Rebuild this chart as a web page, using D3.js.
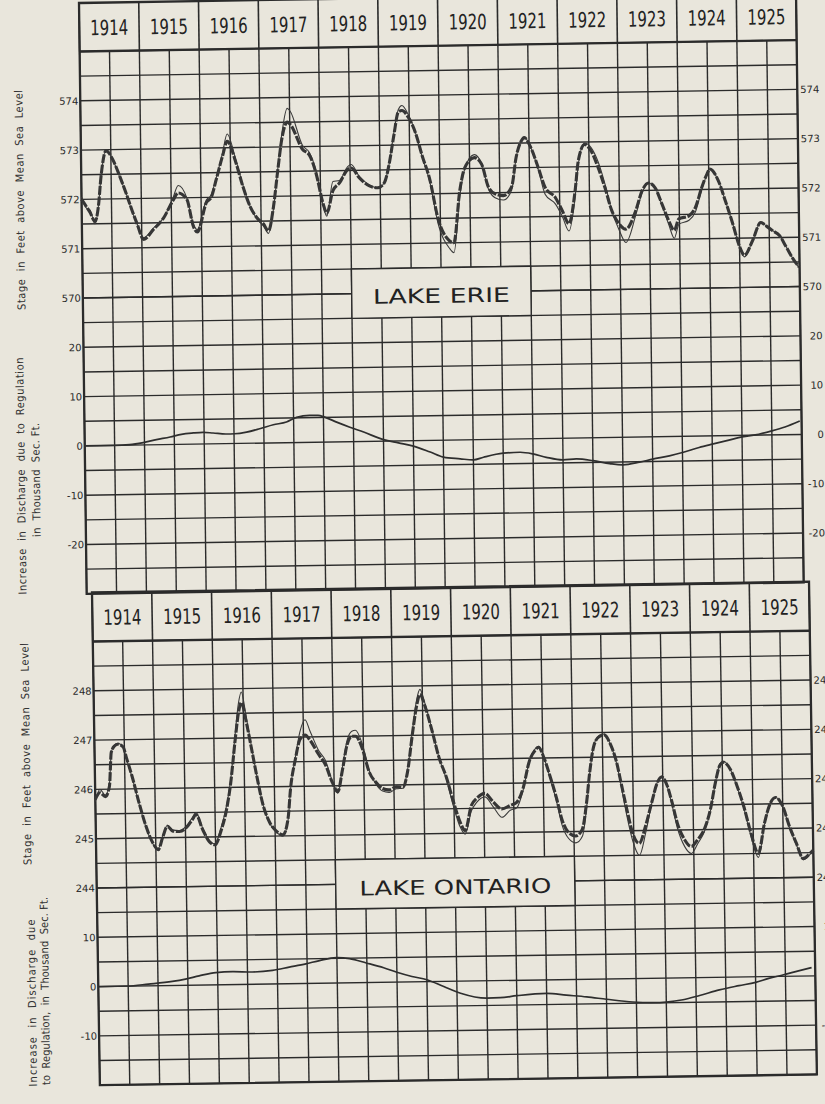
<!DOCTYPE html>
<html>
<head>
<meta charset="utf-8">
<script src="https://cdn.jsdelivr.net/npm/d3@7/dist/d3.min.js"></script>
<style>
  body { margin: 0; background: #e9e6dc; }
  svg { display: block; }
</style>
</head>
<body>
<div id="chart"></div>
<script>
// header categories
let years = [1914, 1915, 1916, 1917, 1918, 1919, 1920, 1921, 1922, 1923, 1924, 1925];

// tick labels
let erieStageTicks = [574, 573, 572, 571, 570];
let erieDischTicks = [20, 10, 0, -10, -20];
let ontStageTicks = [248, 247, 246, 245, 244];
let ontDischTicks = [10, 0, -10];

// Lake Erie stage, ft above sea level [year, ft] - heavy line
let erieStageHeavy = [
  [1914.00,572.0],[1914.08,571.85],[1914.14,571.73],[1914.22,571.55],[1914.28,571.85],[1914.33,572.45],
  [1914.42,572.98],[1914.53,572.8],[1914.64,572.47],[1914.75,572.1],[1914.84,571.77],[1914.92,571.5],
  [1915.03,571.17],[1915.20,571.37],[1915.37,571.6],[1915.53,571.95],[1915.62,572.1],[1915.76,571.97],
  [1915.87,571.4],[1915.93,571.3],[1916.09,571.9],[1916.17,572.0],[1916.26,572.37],[1916.37,572.84],
  [1916.45,573.13],[1916.59,572.7],[1916.70,572.22],[1916.82,571.8],[1916.93,571.57],[1917.04,571.44],
  [1917.12,571.3],[1917.21,571.79],[1917.29,572.53],[1917.37,573.2],[1917.46,573.5],[1917.51,573.45],
  [1917.71,572.94],[1917.82,572.83],[1917.93,572.45],[1918.04,571.84],[1918.10,571.64],[1918.21,572.1],
  [1918.32,572.25],[1918.46,572.52],[1918.52,572.55],[1918.65,572.35],[1918.82,572.18],[1918.96,572.14],
  [1919.07,572.24],[1919.16,572.65],[1919.24,573.2],[1919.32,573.67],[1919.38,573.7],[1919.49,573.55],
  [1919.60,573.25],[1919.71,572.77],[1919.83,572.3],[1919.96,571.5],[1920.14,571.05],[1920.22,571.0],
  [1920.33,572.05],[1920.42,572.52],[1920.58,572.72],[1920.70,572.59],[1920.81,572.12],[1920.92,571.98],
  [1921.06,571.94],[1921.20,572.12],[1921.28,572.71],[1921.37,573.04],[1921.42,573.11],[1921.53,572.9],
  [1921.65,572.49],[1921.76,572.09],[1921.93,571.88],[1922.04,571.62],[1922.15,571.35],[1922.26,572.01],
  [1922.32,572.62],[1922.43,572.95],[1922.54,572.81],[1922.65,572.48],[1922.76,572.07],[1922.87,571.6],
  [1922.99,571.33],[1923.10,571.22],[1923.27,571.59],[1923.38,571.99],[1923.49,572.15],[1923.60,572.05],
  [1923.71,571.72],[1923.82,571.38],[1923.91,571.18],[1923.99,571.41],[1924.16,571.47],[1924.27,571.64],
  [1924.38,572.04],[1924.47,572.31],[1924.52,572.41],[1924.66,572.17],[1924.77,571.77],[1924.89,571.3],
  [1925.00,570.83],[1925.08,570.65],[1925.22,570.95],[1925.36,571.31],[1925.47,571.22],[1925.56,571.14],
  [1925.67,571.04],[1925.78,570.81],[1925.89,570.57],[1925.99,570.4]
];

// Lake Erie stage - thin line
let erieStageThin = [
  [1914.00,572.05],[1914.08,571.82],[1914.14,571.78],[1914.22,571.5],[1914.28,571.85],[1914.33,572.45],
  [1914.42,573.0],[1914.53,572.8],[1914.64,572.45],[1914.75,572.1],[1914.84,571.75],[1914.92,571.5],
  [1915.03,571.2],[1915.20,571.4],[1915.37,571.6],[1915.53,572.0],[1915.62,572.25],[1915.76,572.0],
  [1915.87,571.45],[1915.93,571.35],[1916.09,571.95],[1916.17,572.05],[1916.26,572.4],[1916.37,572.9],
  [1916.45,573.28],[1916.59,572.75],[1916.70,572.25],[1916.82,571.8],[1916.93,571.55],[1917.04,571.4],
  [1917.12,571.25],[1917.21,571.75],[1917.29,572.55],[1917.37,573.3],[1917.46,573.78],[1917.51,573.72],
  [1917.71,573.02],[1917.82,572.88],[1917.93,572.5],[1918.04,571.8],[1918.10,571.58],[1918.21,572.28],
  [1918.32,572.3],[1918.46,572.58],[1918.52,572.62],[1918.65,572.38],[1918.82,572.2],[1918.96,572.14],
  [1919.07,572.24],[1919.16,572.65],[1919.24,573.25],[1919.32,573.72],[1919.38,573.8],[1919.49,573.6],
  [1919.60,573.25],[1919.71,572.75],[1919.83,572.25],[1919.96,571.4],[1920.14,570.9],[1920.22,570.8],
  [1920.33,571.95],[1920.42,572.5],[1920.58,572.78],[1920.70,572.6],[1920.81,572.08],[1920.92,571.9],
  [1921.06,571.85],[1921.20,572.05],[1921.28,572.7],[1921.37,573.05],[1921.42,573.12],[1921.53,572.9],
  [1921.65,572.45],[1921.76,571.95],[1921.93,571.75],[1922.04,571.5],[1922.15,571.2],[1922.26,571.9],
  [1922.32,572.55],[1922.43,572.98],[1922.54,572.88],[1922.65,572.6],[1922.76,572.15],[1922.87,571.6],
  [1922.99,571.2],[1923.10,570.95],[1923.27,571.5],[1923.38,571.95],[1923.49,572.15],[1923.60,572.05],
  [1923.71,571.7],[1923.82,571.3],[1923.91,571.02],[1923.99,571.3],[1924.16,571.38],[1924.27,571.55],
  [1924.38,572.0],[1924.47,572.3],[1924.52,572.41],[1924.66,572.17],[1924.77,571.77],[1924.89,571.3],
  [1925.00,570.83],[1925.08,570.62],[1925.22,570.95],[1925.36,571.31],[1925.47,571.22],[1925.56,571.14],
  [1925.67,571.04],[1925.78,570.81],[1925.89,570.57],[1925.99,570.38]
];

// Lake Erie increase in discharge, thousand sec. ft.
let erieDischarge = [
  [1914.00,0],[1914.50,0],[1914.75,0.1],[1914.98,0.48],[1915.20,1.03],[1915.43,1.53],[1915.62,2.04],
  [1915.82,2.27],[1915.98,2.37],[1916.15,2.2],[1916.37,1.95],[1916.51,1.98],[1916.71,2.28],[1916.93,2.91],
  [1917.16,3.68],[1917.38,4.18],[1917.55,5.1],[1917.77,5.46],[1917.91,5.43],[1918.02,5.06],[1918.22,4.0],
  [1918.44,2.93],[1918.67,1.9],[1919.00,0.3],[1919.25,-0.4],[1919.50,-1.1],[1919.78,-2.37],[1920.00,-3.44],
  [1920.28,-3.84],[1920.50,-4.1],[1920.67,-3.59],[1921.00,-2.84],[1921.28,-2.7],[1921.50,-3.08],
  [1921.72,-3.81],[1922.00,-4.4],[1922.22,-4.24],[1922.50,-4.64],[1922.78,-5.3],[1923.00,-5.6],
  [1923.28,-5.1],[1923.50,-4.53],[1923.78,-3.91],[1924.00,-3.28],[1924.28,-2.32],[1924.50,-1.69],
  [1924.78,-0.93],[1925.00,-0.3],[1925.28,0.18],[1925.50,0.81],[1925.72,1.57],[1925.97,2.74]
];

// Lake Ontario stage - heavy line
let ontStageHeavy = [
  [1914.00,245.8],[1914.08,245.93],[1914.17,245.85],[1914.24,246.06],[1914.28,246.75],[1914.34,246.88],
  [1914.39,246.91],[1914.48,246.85],[1914.53,246.64],[1914.62,246.26],[1914.73,245.72],[1914.84,245.24],
  [1914.95,244.9],[1915.04,244.76],[1915.12,245.02],[1915.20,245.23],[1915.29,245.13],[1915.40,245.12],
  [1915.51,245.19],[1915.62,245.36],[1915.68,245.46],[1915.79,245.15],[1915.90,244.9],[1915.99,244.84],
  [1916.10,245.14],[1916.18,245.48],[1916.27,246.09],[1916.35,246.9],[1916.42,247.52],[1916.47,247.72],
  [1916.55,247.3],[1916.63,246.76],[1916.71,246.21],[1916.80,245.66],[1916.91,245.28],[1917.02,245.1],
  [1917.13,245.02],[1917.22,245.35],[1917.27,245.96],[1917.36,246.56],[1917.44,246.95],[1917.53,247.04],
  [1917.61,246.93],[1917.75,246.64],[1917.86,246.43],[1917.97,246.07],[1918.06,245.88],[1918.14,246.3],
  [1918.23,246.84],[1918.31,247.0],[1918.37,247.0],[1918.48,246.75],[1918.59,246.27],[1918.70,246.06],
  [1918.81,245.93],[1918.92,245.9],[1919.04,245.96],[1919.15,245.95],[1919.23,246.25],[1919.32,247.0],
  [1919.40,247.59],[1919.46,247.83],[1919.54,247.59],[1919.65,247.1],[1919.76,246.55],[1919.88,246.14],
  [1919.99,245.65],[1920.10,245.22],[1920.18,245.05],[1920.29,245.56],[1920.38,245.7],[1920.52,245.8],
  [1920.66,245.62],[1920.80,245.48],[1920.94,245.55],[1921.05,245.61],[1921.16,245.89],[1921.27,246.43],
  [1921.38,246.67],[1921.43,246.72],[1921.52,246.5],[1921.61,246.15],[1921.72,245.67],[1921.80,245.26],
  [1921.91,244.98],[1922.03,244.91],[1922.14,245.04],[1922.22,245.59],[1922.28,246.2],[1922.36,246.75],
  [1922.45,246.92],[1922.53,246.95],[1922.64,246.74],[1922.73,246.4],[1922.81,245.92],[1922.89,245.44],
  [1922.98,244.96],[1923.09,244.74],[1923.20,245.09],[1923.31,245.57],[1923.40,245.94],[1923.48,246.08],
  [1923.57,245.91],[1923.65,245.56],[1923.73,245.15],[1923.85,244.8],[1923.96,244.66],[1924.07,244.8],
  [1924.18,245.0],[1924.29,245.41],[1924.38,245.95],[1924.46,246.3],[1924.52,246.36],[1924.63,246.22],
  [1924.74,245.88],[1924.85,245.45],[1924.96,244.92],[1925.08,244.5],[1925.19,245.11],[1925.30,245.53],
  [1925.38,245.63],[1925.50,245.45],[1925.61,245.03],[1925.72,244.69],[1925.83,244.38],[1925.94,244.48],
  [1926.00,244.55]
];

// Lake Ontario stage - thin line
let ontStageThin = [
  [1914.00,245.75],[1914.08,246.0],[1914.17,245.88],[1914.24,246.1],[1914.28,246.75],[1914.34,246.9],
  [1914.39,246.93],[1914.48,246.85],[1914.53,246.62],[1914.62,246.24],[1914.73,245.7],[1914.84,245.22],
  [1914.95,244.88],[1915.04,244.78],[1915.12,245.05],[1915.20,245.25],[1915.29,245.15],[1915.40,245.14],
  [1915.51,245.22],[1915.62,245.4],[1915.68,245.5],[1915.79,245.18],[1915.90,244.92],[1915.99,244.86],
  [1916.10,245.2],[1916.18,245.55],[1916.27,246.15],[1916.35,247.0],[1916.42,247.7],[1916.47,247.93],
  [1916.55,247.4],[1916.63,246.8],[1916.71,246.22],[1916.80,245.66],[1916.91,245.26],[1917.02,245.08],
  [1917.13,245.0],[1917.22,245.32],[1917.27,245.95],[1917.36,246.6],[1917.44,247.1],[1917.53,247.35],
  [1917.61,247.12],[1917.75,246.72],[1917.86,246.52],[1917.97,246.1],[1918.06,245.85],[1918.14,246.35],
  [1918.23,246.92],[1918.31,247.1],[1918.37,247.12],[1918.48,246.85],[1918.59,246.3],[1918.70,246.02],
  [1918.81,245.88],[1918.92,245.85],[1919.04,245.92],[1919.15,245.93],[1919.23,246.28],[1919.32,247.05],
  [1919.40,247.7],[1919.46,247.93],[1919.54,247.65],[1919.65,247.12],[1919.76,246.55],[1919.88,246.1],
  [1919.99,245.55],[1920.10,245.12],[1920.18,244.98],[1920.29,245.45],[1920.38,245.62],[1920.52,245.73],
  [1920.66,245.52],[1920.80,245.31],[1920.94,245.45],[1921.05,245.5],[1921.16,245.85],[1921.27,246.43],
  [1921.38,246.7],[1921.43,246.74],[1921.52,246.5],[1921.61,246.12],[1921.72,245.6],[1921.80,245.15],
  [1921.91,244.86],[1922.03,244.77],[1922.14,244.9],[1922.22,245.5],[1922.28,246.18],[1922.36,246.76],
  [1922.45,246.94],[1922.53,246.97],[1922.64,246.74],[1922.73,246.38],[1922.81,245.86],[1922.89,245.3],
  [1922.98,244.8],[1923.09,244.5],[1923.20,244.95],[1923.31,245.55],[1923.40,245.95],[1923.48,246.1],
  [1923.57,245.9],[1923.65,245.5],[1923.73,245.05],[1923.85,244.66],[1923.96,244.52],[1924.07,244.72],
  [1924.18,244.95],[1924.29,245.38],[1924.38,245.95],[1924.46,246.32],[1924.52,246.38],[1924.63,246.22],
  [1924.74,245.86],[1924.85,245.42],[1924.96,244.86],[1925.08,244.42],[1925.19,245.08],[1925.30,245.53],
  [1925.38,245.63],[1925.50,245.45],[1925.61,245.0],[1925.72,244.66],[1925.83,244.36],[1925.94,244.46],
  [1926.00,244.52]
];

// Lake Ontario increase in discharge, thousand sec. ft.
let ontDischarge = [
  [1914.00,0],[1914.48,0.03],[1914.84,0.36],[1915.24,0.82],[1915.46,1.25],[1915.69,1.87],[1915.97,2.49],
  [1916.25,2.63],[1916.58,2.49],[1916.92,2.76],[1917.20,3.37],[1917.48,3.99],[1917.71,4.61],[1917.99,5.15],
  [1918.21,4.91],[1918.49,3.98],[1918.78,2.95],[1919.00,2.0],[1919.25,1.1],[1919.50,0.4],[1919.78,-1.04],
  [1920.06,-2.45],[1920.50,-3.53],[1920.72,-3.47],[1921.00,-3.12],[1921.50,-2.75],[1921.83,-3.16],
  [1922.17,-3.57],[1922.50,-4.11],[1922.94,-4.75],[1923.28,-4.95],[1923.50,-4.86],[1923.78,-4.45],
  [1924.06,-3.64],[1924.39,-2.56],[1924.72,-1.76],[1925.00,-1.14],[1925.22,-0.38],[1925.47,0.31],
  [1925.72,1.06],[1925.94,1.69]
];

let width = 825;
let height = 1104;
let W = 717;      // frame width
let ROW = 24.65;  // one grid row
let ink = '#2b2b2b';
let paper = '#e9e6dc';
let narrow = "'Liberation Sans Narrow', 'DejaVu Sans Condensed', sans-serif";

let svg = d3
  .select('#chart')
  .append('svg')
  .attr('width', width)
  .attr('height', height);

svg.append('rect').attr('width', width).attr('height', height).attr('fill', paper);

function drawPanel(p) {
  //the scan is slightly skewed, so each panel sits in its own skewed frame
  let g = svg
    .append('g')
    .attr('transform', 'matrix(1,' + p.tiltY + ',' + p.tiltX + ',1,' + p.x0 + ',' + p.y0 + ')');

  let top = p.header;
  let mid = p.header + p.stageRows * ROW;
  let bottom = p.header + p.rows * ROW;

  let x_scale = d3.scaleLinear().domain([1914, 1926]).range([0, W]);
  let y_stage = d3.scaleLinear().domain(p.stageDomain).range([top, mid]);
  let y_disch = d3.scaleLinear().domain(p.dischDomain).range([mid, bottom]);

  //horizontal grid rows
  let rowsY = y_stage.ticks(10).map(y_stage).concat(y_disch.ticks(p.rows - p.stageRows).map(y_disch));
  g.append('g')
    .selectAll('line')
    .data(rowsY)
    .enter()
    .append('line')
    .attr('x1', 0)
    .attr('x2', W)
    .attr('y1', d => d)
    .attr('y2', d => d)
    .attr('stroke', ink)
    .attr('stroke-width', 1.4);

  //half-year columns
  g.append('g')
    .selectAll('line')
    .data(x_scale.ticks(24))
    .enter()
    .append('line')
    .attr('x1', d => x_scale(d))
    .attr('x2', d => x_scale(d))
    .attr('y1', top)
    .attr('y2', bottom)
    .attr('stroke', ink)
    .attr('stroke-width', 1.4);

  //header year cells
  g.append('g')
    .selectAll('line')
    .data(x_scale.ticks(12))
    .enter()
    .append('line')
    .attr('x1', d => x_scale(d))
    .attr('x2', d => x_scale(d))
    .attr('y1', 0)
    .attr('y2', top)
    .attr('stroke', ink)
    .attr('stroke-width', 1.6);

  g.append('g')
    .selectAll('text')
    .data(years)
    .enter()
    .append('text')
    .attr('x', d => x_scale(d + 0.5))
    .attr('y', 32.5)
    .attr('text-anchor', 'middle')
    .attr('font-family', narrow)
    .attr('font-size', 21)
    .attr('textLength', 38)
    .attr('lengthAdjust', 'spacingAndGlyphs')
    .attr('fill', '#222')
    .text(d => d);

  //lake name box
  let bx0 = x_scale(p.box[0]);
  let bx1 = x_scale(p.box[1]);
  let by0 = y_stage(p.boxTop);
  let by1 = y_disch(p.boxBottom);
  g.append('rect')
    .attr('x', bx0)
    .attr('y', by0)
    .attr('width', bx1 - bx0)
    .attr('height', by1 - by0)
    .attr('fill', paper)
    .attr('stroke', ink)
    .attr('stroke-width', 1.4);
  g.append('text')
    .attr('x', (bx0 + bx1) / 2)
    .attr('y', p.labelY)
    .attr('text-anchor', 'middle')
    .attr('font-family', "'DejaVu Sans', sans-serif")
    .attr('font-size', 20)
    .attr('textLength', p.labelLength)
    .attr('lengthAdjust', 'spacingAndGlyphs')
    .attr('fill', '#222')
    .text(p.label);

  //frame and header rule
  g.append('rect')
    .attr('x', 0)
    .attr('y', 0)
    .attr('width', W)
    .attr('height', bottom)
    .attr('fill', 'none')
    .attr('stroke', ink)
    .attr('stroke-width', 2.3);
  g.append('line')
    .attr('x1', 0)
    .attr('x2', W)
    .attr('y1', top)
    .attr('y2', top)
    .attr('stroke', ink)
    .attr('stroke-width', 2.3);

  //tick labels both sides (plain hyphen minus, no decimals)
  let styleAxis = sel => {
    sel.select('.domain').remove();
    sel.attr('font-family', "'DejaVu Sans', sans-serif").attr('font-size', 10);
    sel.selectAll('text').attr('fill', '#2a2a2a');
  };
  let plain = d => String(d);
  g.append('g')
    .call(d3.axisLeft(y_stage).tickValues(p.stageTicks).tickFormat(plain).tickSize(0).tickPadding(2))
    .call(styleAxis);
  g.append('g')
    .call(d3.axisLeft(y_disch).tickValues(p.dischTicks).tickFormat(plain).tickSize(0).tickPadding(2))
    .call(styleAxis);
  g.append('g')
    .attr('transform', 'translate(' + W + ',0)')
    .call(d3.axisRight(y_stage).tickValues(p.stageTicks).tickFormat(plain).tickSize(0))
    .call(styleAxis)
    .selectAll('text')
    .attr('x', 22)
    .attr('text-anchor', 'end');
  g.append('g')
    .attr('transform', 'translate(' + W + ',0)')
    .call(d3.axisRight(y_disch).tickValues(p.dischTicks).tickFormat(plain).tickSize(0))
    .call(styleAxis)
    .selectAll('text')
    .attr('x', 22)
    .attr('text-anchor', 'end');

  //discharge line
  let dischLine = d3
    .line()
    .x(d => x_scale(d[0]))
    .y(d => y_disch(d[1]))
    .curve(d3.curveMonotoneX);
  g.append('path')
    .attr('d', dischLine(p.discharge))
    .attr('fill', 'none')
    .attr('stroke', '#2e2e2e')
    .attr('stroke-width', 1.7);

  //stage lines
  let stageLine = d3
    .line()
    .x(d => x_scale(d[0]))
    .y(d => y_stage(d[1]))
    .curve(d3.curveMonotoneX);
  g.append('path')
    .attr('d', stageLine(p.thin))
    .attr('fill', 'none')
    .attr('stroke', '#3a3a3a')
    .attr('stroke-width', 1.1);
  g.append('path')
    .attr('d', stageLine(p.heavy))
    .attr('fill', 'none')
    .attr('stroke', '#363636')
    .attr('stroke-width', 3.1)
    .attr('stroke-dasharray', '9 1.6')
    .attr('stroke-linejoin', 'round');
}

drawPanel({
  x0: 79, y0: 3, tiltX: 0.013, tiltY: -0.016,
  header: 48.5, rows: 22, stageRows: 10,
  stageDomain: [575, 570], dischDomain: [30, -30],
  stageTicks: erieStageTicks, dischTicks: erieDischTicks,
  box: [1918.5, 1921.5], boxTop: 570.5, boxBottom: 25,
  label: 'LAKE ERIE', labelY: 305.5, labelLength: 137,
  heavy: erieStageHeavy, thin: erieStageThin, discharge: erieDischarge
});

drawPanel({
  x0: 92, y0: 592.5, tiltX: 0.016, tiltY: -0.015,
  header: 49, rows: 18, stageRows: 10,
  stageDomain: [249, 244], dischDomain: [20, -20],
  stageTicks: ontStageTicks, dischTicks: ontDischTicks,
  box: [1918, 1922], boxTop: 244.5, boxBottom: 15,
  label: 'LAKE ONTARIO', labelY: 307, labelLength: 192,
  heavy: ontStageHeavy, thin: ontStageThin, discharge: ontDischarge
});

//side titles, written bottom to top
let titles = [
  { text: 'Stage  in  Feet  above  Mean  Sea  Level', x: 20, y: 200, len: 220 },
  { text: 'Increase  in  Discharge  due  to  Regulation', x: 21, y: 476, len: 237 },
  { text: 'in  Thousand  Sec. Ft.', x: 36, y: 480, len: 114 },
  { text: 'Stage  in  Feet  above  Mean  Sea  Level', x: 26, y: 754, len: 222 },
  { text: 'Increase  in  Discharge  due', x: 32, y: 1003, len: 167 },
  { text: 'to  Regulation,  in  Thousand  Sec. Ft.', x: 45, y: 991, len: 188 }
];
svg
  .append('g')
  .selectAll('text')
  .data(titles)
  .enter()
  .append('text')
  .attr('transform', d => 'translate(' + d.x + ',' + d.y + ') rotate(-90.8)')
  .attr('dy', '0.35em')
  .attr('text-anchor', 'middle')
  .attr('font-family', "'DejaVu Sans Condensed', 'DejaVu Sans', sans-serif")
  .attr('font-size', 11)
  .attr('textLength', d => d.len)
  .attr('lengthAdjust', 'spacing')
  .attr('fill', '#333')
  .style('white-space', 'pre')
  .text(d => d.text);
</script>
</body>
</html>
